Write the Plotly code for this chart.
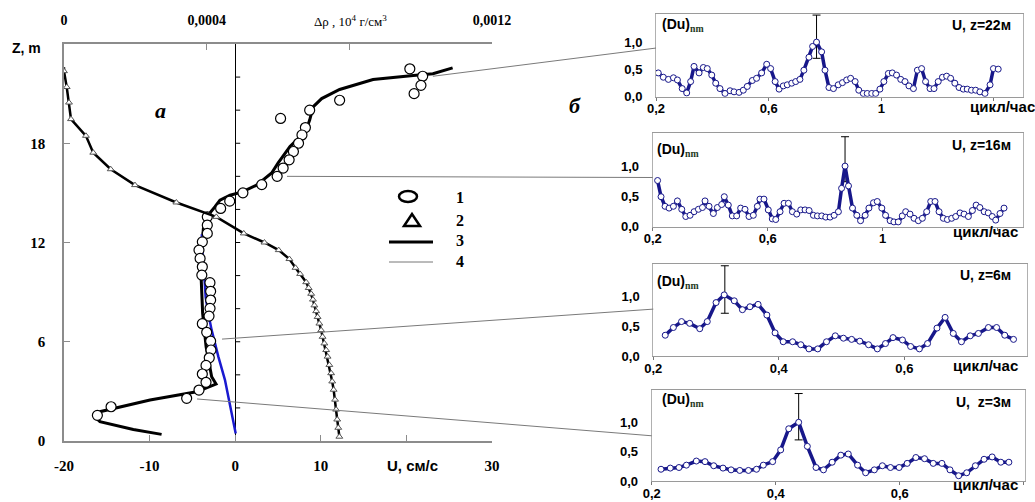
import plotly.graph_objects as go

W, H = 1035, 502
def px(x): return x / W
def py(y): return 1 - y / H

# ---------------- main panel data ----------------
# measured velocity (circles, 1)
U_circ = [20.4, 21.9, 21.7, 20.9, 12.2, 8.7, 5.3, 8.2, 7.8, 7.4, 6.8, 6.3, 5.6, 4.9, 3.1, 0.9,
          -0.64, -1.7, -3.26, -3.26, -3.26, -3.84, -4.23, -4.1, -3.84, -3.9, -2.95, -2.87, -2.87,
          -2.94, -3.06, -3.84, -3.33, -2.87, -2.83, -3.03, -3.41, -3.84, -3.41, -4.23, -5.67, -14.5, -16.1]
Z_circ = [22.5, 22.05, 21.5, 21.0, 20.6, 20.0, 19.5, 18.95, 18.5, 18.0, 17.5, 17.0, 16.5, 16.0, 15.5, 15.0,
          14.5, 14.06, 13.55, 13.05, 12.55, 12.04, 11.54, 11.04, 10.53, 10.03, 9.57, 9.05, 8.52,
          8.02, 7.55, 7.09, 6.57, 6.04, 5.5, 5.03, 4.57, 4.05, 3.55, 3.08, 2.58, 2.07, 1.55]
# velocity fit line (3)
U_line = [25.4, 23.1, 20.8, 16.1, 12.2, 10.1, 9.1, 8.7, 8.2, 6.4, 5.0, 4.26, 2.5, 0.83, -0.6, -1.78,
          -2.36, -2.94, -3.7, -3.9, -4.0, -3.9, -3.8, -3.4, -2.75, -2.24, -4.5, -9.95, -15.8, -16.4,
          -15.8, -11.9, -8.6]
Z_line = [22.56, 22.2, 22.1, 21.85, 21.25, 20.7, 20.2, 19.4, 18.7, 17.8, 16.8, 16.2, 15.47, 15.06, 14.86, 14.56,
          14.16, 13.8, 12.95, 11.74, 10.13, 8.72, 7.7, 5.7, 3.89, 3.44, 2.98, 2.48, 1.77, 1.47,
          1.17, 0.7, 0.4]
# model profile (blue)
U_blue = [0.06, -0.6, -1.2, -1.97, -2.75, -3.14, -3.45, -3.6, -3.8, -3.9]
Z_blue = [0.46, 2.07, 3.7, 5.1, 6.7, 7.7, 8.7, 9.9, 11.2, 12.5]
# density (triangles, 2), top axis
R_tri = [0.0, 0.0000076, 0.000014, 0.0000196, 0.0000615, 0.000082, 0.000131, 0.000199, 0.000315,
         0.000427, 0.000504, 0.000562, 0.000602, 0.000632, 0.000649, 0.000662, 0.000679, 0.000686,
         0.000693, 0.000698, 0.000702, 0.000707, 0.000711, 0.000716, 0.000721, 0.000725, 0.00073,
         0.000735, 0.000739, 0.000744, 0.000749, 0.000752, 0.000756, 0.00076, 0.000763, 0.000766,
         0.000769, 0.000772]
Z_tri = [22.36, 21.4, 20.46, 19.46, 18.45, 17.43, 16.43, 15.47, 14.42,
         13.55, 12.55, 12.0, 11.54, 11.0, 10.47, 10.1, 9.6, 9.25,
         8.9, 8.55, 8.2, 7.85, 7.5, 7.1, 6.7, 6.3, 5.9,
         5.5, 5.1, 4.6, 4.1, 3.6, 3.1, 2.5, 1.9, 1.3,
         0.8, 0.26]
R_line_top = [0.0]
Z_line_top = [22.6]

U_ticks = [-20, -10, 0, 10, 30]
U_ticktext = ["-20", "-10", "0", "10", "30"]
U_minor = [20]
Z_ticks = [0, 6, 12, 18]
Z_zero_ticks = [2, 4, 6, 8, 10, 12, 14, 16, 18, 20, 22]
R_ticks = [0, 0.0004, 0.0012]
R_ticktext = ["0", "0,0004", "0,0012"]
R_minor = [0.0008]

# ---------------- spectra panels ----------------
f1 = [0.208, 0.226, 0.244, 0.262, 0.276, 0.293, 0.309, 0.323, 0.335, 0.353, 0.368, 0.382, 0.398, 0.412,
      0.427, 0.445, 0.463, 0.477, 0.495, 0.51, 0.524, 0.542, 0.557, 0.575, 0.593, 0.607, 0.623, 0.637,
      0.652, 0.666, 0.682, 0.696, 0.711, 0.725, 0.743, 0.756, 0.77, 0.788, 0.8, 0.814, 0.83, 0.847,
      0.862, 0.877, 0.891, 0.907, 0.92, 0.936, 0.95, 0.966, 0.98, 0.995, 1.009, 1.025, 1.039, 1.054,
      1.069, 1.084, 1.098, 1.114, 1.128, 1.143, 1.157, 1.173, 1.187, 1.202, 1.217, 1.232, 1.246,
      1.261, 1.276, 1.291, 1.305, 1.32, 1.335, 1.35, 1.368, 1.386, 1.398, 1.415]
d1 = [0.44, 0.36, 0.32, 0.35, 0.31, 0.15, 0.07, 0.28, 0.56, 0.44, 0.54, 0.52, 0.40, 0.25,
      0.15, 0.06, 0.11, 0.09, 0.08, 0.12, 0.19, 0.30, 0.34, 0.44, 0.60, 0.52, 0.28, 0.14,
      0.20, 0.22, 0.25, 0.28, 0.32, 0.49, 0.73, 0.93, 1.01, 0.83, 0.49, 0.17, 0.15, 0.22,
      0.26, 0.31, 0.34, 0.28, 0.12, 0.06, 0.06, 0.06, 0.06, 0.14, 0.28, 0.43, 0.44, 0.40,
      0.32, 0.28, 0.20, 0.15, 0.49, 0.52, 0.28, 0.15, 0.15, 0.28, 0.36, 0.38, 0.34,
      0.25, 0.17, 0.14, 0.14, 0.12, 0.12, 0.09, 0.06, 0.22, 0.52, 0.51]
f2 = [0.217, 0.229, 0.243, 0.257, 0.272, 0.286, 0.301, 0.315, 0.33, 0.344, 0.359, 0.373, 0.382, 0.396,
      0.411, 0.425, 0.44, 0.449, 0.463, 0.477, 0.492, 0.506, 0.521, 0.535, 0.55, 0.564, 0.573, 0.587,
      0.602, 0.616, 0.628, 0.643, 0.657, 0.672, 0.686, 0.701, 0.715, 0.73, 0.744, 0.759, 0.773, 0.788,
      0.802, 0.817, 0.831, 0.846, 0.857, 0.869, 0.881, 0.895, 0.91, 0.923, 0.939, 0.952, 0.968, 0.981,
      0.997, 1.01, 1.026, 1.039, 1.054, 1.068, 1.08, 1.095, 1.109, 1.124, 1.138, 1.153, 1.167, 1.182,
      1.196, 1.211, 1.225, 1.24, 1.254, 1.269, 1.283, 1.298, 1.312, 1.325, 1.338, 1.353, 1.367, 1.381,
      1.393, 1.408, 1.422]
d2 = [0.77, 0.50, 0.34, 0.31, 0.34, 0.43, 0.29, 0.17, 0.19, 0.25, 0.29, 0.32, 0.43, 0.34,
      0.22, 0.32, 0.37, 0.50, 0.36, 0.18, 0.18, 0.31, 0.29, 0.17, 0.19, 0.34, 0.46, 0.46,
      0.28, 0.13, 0.12, 0.25, 0.39, 0.39, 0.25, 0.21, 0.28, 0.28, 0.27, 0.19, 0.18, 0.18,
      0.16, 0.16, 0.19, 0.25, 0.64, 1.01, 0.68, 0.31, 0.19, 0.10, 0.19, 0.31, 0.40, 0.42,
      0.31, 0.19, 0.10, 0.08, 0.08, 0.18, 0.25, 0.21, 0.14, 0.10, 0.14, 0.25, 0.42, 0.42,
      0.25, 0.14, 0.12, 0.14, 0.17, 0.23, 0.21, 0.17, 0.27, 0.36, 0.32, 0.25, 0.23, 0.17,
      0.11, 0.22, 0.31]
f3 = [0.219, 0.232, 0.245, 0.258, 0.274, 0.286, 0.3, 0.313, 0.329, 0.342, 0.354, 0.367, 0.381, 0.394,
      0.407, 0.422, 0.435, 0.448, 0.462, 0.476, 0.49, 0.503, 0.516, 0.529, 0.543, 0.557, 0.57, 0.582,
      0.597, 0.61, 0.624, 0.637, 0.652, 0.665, 0.678, 0.691, 0.705, 0.718, 0.734, 0.747, 0.76, 0.774]
d3 = [0.35, 0.48, 0.58, 0.55, 0.46, 0.58, 0.90, 1.03, 0.93, 0.78, 0.83, 0.87, 0.69, 0.39,
      0.24, 0.24, 0.19, 0.12, 0.12, 0.24, 0.34, 0.30, 0.28, 0.25, 0.19, 0.12, 0.21, 0.31,
      0.27, 0.16, 0.12, 0.21, 0.47, 0.65, 0.38, 0.24, 0.34, 0.38, 0.48, 0.48, 0.35, 0.28]
f4 = [0.215, 0.23, 0.244, 0.256, 0.272, 0.286, 0.3, 0.315, 0.328, 0.342, 0.356, 0.369, 0.38, 0.395,
      0.408, 0.421, 0.437, 0.451, 0.465, 0.477, 0.491, 0.505, 0.517, 0.532, 0.545, 0.559, 0.572, 0.585,
      0.599, 0.612, 0.626, 0.64, 0.654, 0.668, 0.681, 0.695, 0.708, 0.722, 0.736, 0.749, 0.763, 0.776]
d4 = [0.20, 0.22, 0.23, 0.27, 0.34, 0.33, 0.26, 0.22, 0.19, 0.18, 0.18, 0.20, 0.27, 0.33,
      0.53, 0.89, 1.0, 0.59, 0.23, 0.19, 0.32, 0.44, 0.46, 0.27, 0.14, 0.19, 0.26, 0.23,
      0.23, 0.30, 0.40, 0.38, 0.30, 0.30, 0.19, 0.09, 0.14, 0.26, 0.37, 0.41, 0.32, 0.32]
# peaks with confidence bars: (freq, value, upper, lower)
peaks = [(0.77, 1.01, 1.51, 0.71), (0.869, 1.01, 1.50, 0.75), (0.314, 1.03, 1.52, 0.72), (0.437, 1.0, 1.49, 0.70)]
panel_titles = ["U, z=22м", "U, z=16м", "U, z=6м", "U,  z=3м"]
panel_x_ticks = [[0.2, 0.6, 1.0], [0.2, 0.6, 1.0], [0.2, 0.4, 0.6], [0.2, 0.4, 0.6]]
panel_x_text = [["0,2", "0,6", "1"], ["0,2", "0,6", "1"], ["0,2", "0,4", "0,6"], ["0,2", "0,4", "0,6"]]
panel_x_minor = [[1.4], [1.4], [0.8], [0.8]]
y_ticks = [0, 0.5, 1.0]
y_text = ["0,0", "0,5", "1,0"]

# connectors: main (U, z) -> panel value at left edge
conn_from = [(23.1, 22.05), (6.05, 16.0), (-1.54, 6.16), (-4.46, 2.54)]
conn_to = [0.9, 0.82, 0.79, 0.77]

# ---------------- layout geometry ----------------
MX = [px(64), px(492)]
MY = [py(441), py(44)]
U_RANGE = [-20, 30]
Z_RANGE = [0, 24]
panels = [
    dict(xd=[px(656), px(1023)], yd=[py(96.7), py(14)], xr=[0.2, 1.503], yr=[0, 1.53]),
    dict(xd=[px(652.7), px(1023)], yd=[py(226.7), py(132.7)], xr=[0.2, 1.488], yr=[0, 1.567]),
    dict(xd=[px(653.3), px(1026.7)], yd=[py(356), py(264)], xr=[0.2, 0.795], yr=[0, 1.55]),
    dict(xd=[px(651.7), px(1025)], yd=[py(481), py(390)], xr=[0.2, 0.802], yr=[0, 1.55]),
]

def main_to_paper(u, z):
    return (MX[0] + (u - U_RANGE[0]) / (U_RANGE[1] - U_RANGE[0]) * (MX[1] - MX[0]),
            MY[0] + (z - Z_RANGE[0]) / (Z_RANGE[1] - Z_RANGE[0]) * (MY[1] - MY[0]))

def panel_to_paper(p, f, v):
    return (p["xd"][0] + (f - p["xr"][0]) / (p["xr"][1] - p["xr"][0]) * (p["xd"][1] - p["xd"][0]),
            p["yd"][0] + (v - p["yr"][0]) / (p["yr"][1] - p["yr"][0]) * (p["yd"][1] - p["yd"][0]))

SERIF = "Liberation Serif"
SANS = "Liberation Sans"
GREY = "#8c8c8c"
NAVY = "#17178a"

fig = go.Figure()

# main panel traces
fig.add_trace(go.Scatter(x=R_line_top + R_tri, y=Z_line_top + Z_tri, mode="lines", xaxis="x2", yaxis="y",
                         line=dict(color="black", width=2.5), showlegend=False))
fig.add_trace(go.Scatter(x=R_tri, y=Z_tri, mode="markers", xaxis="x2", yaxis="y",
                         marker=dict(symbol="triangle-up", size=6, color="white",
                                     line=dict(color="#555", width=1)), showlegend=False))
fig.add_trace(go.Scatter(x=U_line, y=Z_line, mode="lines", xaxis="x", yaxis="y",
                         line=dict(color="black", width=3), showlegend=False))
fig.add_trace(go.Scatter(x=U_blue, y=Z_blue, mode="lines", xaxis="x", yaxis="y",
                         line=dict(color="#1a1ad0", width=2.5), showlegend=False))
fig.add_trace(go.Scatter(x=U_circ, y=Z_circ, mode="markers", xaxis="x", yaxis="y",
                         marker=dict(symbol="circle", size=10, color="white",
                                     line=dict(color="black", width=1.2)), showlegend=False))

# spectra traces
spec = [(f1, d1), (f2, d2), (f3, d3), (f4, d4)]
for i, ((fx, dy), pk) in enumerate(zip(spec, peaks)):
    xa, ya = "x%d" % (i + 3), "y%d" % (i + 3)
    fig.add_trace(go.Scatter(x=[pk[0]], y=[pk[1]], mode="markers", xaxis=xa, yaxis=ya,
                             marker=dict(size=1, color="rgba(0,0,0,0)"),
                             error_y=dict(type="data", symmetric=False, array=[pk[2] - pk[1]],
                                          arrayminus=[pk[1] - pk[3]], color="black", thickness=1, width=4),
                             showlegend=False))
    fig.add_trace(go.Scatter(x=fx, y=dy, mode="lines+markers", xaxis=xa, yaxis=ya,
                             line=dict(color=NAVY, width=3.5),
                             marker=dict(symbol="circle", size=6, color="white",
                                         line=dict(color=NAVY, width=1)),
                             showlegend=False))

layout = dict(
    width=W, height=H, autosize=False,
    margin=dict(l=0, r=0, t=0, b=0, pad=0),
    paper_bgcolor="white", plot_bgcolor="white",
    showlegend=False,
    xaxis=dict(domain=MX, range=U_RANGE, anchor="y", tickvals=U_ticks, automargin=False,
               ticktext=["<b>%s</b>" % t for t in U_ticktext],
               ticks="inside", ticklen=6, tickcolor=GREY, showline=True, linecolor=GREY, linewidth=1.5,
               minor=dict(tickmode="array", tickvals=U_minor, ticks="inside", ticklen=6, tickcolor=GREY),
               showgrid=False, zeroline=True, zerolinecolor="black", zerolinewidth=1, ticklabelstandoff=10,
               tickfont=dict(family=SERIF, size=15, color="black")),
    xaxis2=dict(overlaying="x", side="top", anchor="y", range=[0, 0.0012], tickvals=R_ticks, automargin=False,
                ticktext=["<b>%s</b>" % t for t in R_ticktext],
                ticks="inside", ticklen=6, tickcolor=GREY, showline=True, linecolor=GREY, linewidth=1.5,
                minor=dict(tickmode="array", tickvals=R_minor, ticks="inside", ticklen=6, tickcolor=GREY),
                showgrid=False, zeroline=False, ticklabelstandoff=12,
                tickfont=dict(family=SERIF, size=14, color="black")),
    yaxis=dict(domain=MY, range=Z_RANGE, anchor="x", tickvals=Z_ticks, automargin=False,
               ticktext=["<b>%d</b>" % t for t in Z_ticks],
               ticks="inside", ticklen=6, tickcolor=GREY, showline=True, linecolor=GREY, linewidth=1.5,
               showgrid=False, zeroline=False, ticklabelstandoff=14,
               tickfont=dict(family=SERIF, size=15, color="black")),
)
for i, p in enumerate(panels):
    n = i + 3
    layout["xaxis%d" % n] = dict(domain=p["xd"], range=p["xr"], anchor="y%d" % n, automargin=False,
                                 tickvals=panel_x_ticks[i],
                                 ticktext=["<b>%s</b>" % t for t in panel_x_text[i]],
                                 ticks="outside", ticklen=3, tickcolor="#777", showline=True, mirror=True,
                                 minor=dict(tickmode="array", tickvals=panel_x_minor[i], ticks="outside",
                                            ticklen=3, tickcolor="#777"),
                                 linecolor="#9a9a9a", linewidth=1.2, showgrid=False, zeroline=False,
                                 ticklabelstandoff=-3,
                                 tickfont=dict(family=SANS, size=13, color="black"))
    layout["yaxis%d" % n] = dict(domain=p["yd"], range=p["yr"], anchor="x%d" % n, automargin=False,
                                 tickvals=y_ticks, ticktext=["<b>%s</b>" % t for t in y_text],
                                 ticks="", showline=True, mirror=True, linecolor="#b0b0b0", linewidth=1,
                                 showgrid=False, zeroline=False, ticklabelstandoff=10,
                                 tickfont=dict(family=SANS, size=13, color="black"))
fig.update_layout(**layout)

shapes = []
# small ticks on the U=0 line
for z in Z_zero_ticks:
    shapes.append(dict(type="line", xref="x", yref="y", xsizemode="pixel", xanchor=0, x0=0, x1=5,
                       y0=z, y1=z, line=dict(color="black", width=1)))
# connectors (thin grey lines)
for (u, z), v, p in zip(conn_from, conn_to, panels):
    x0, y0 = main_to_paper(u, z)
    x1, y1 = panel_to_paper(p, p["xr"][0], v)
    shapes.append(dict(type="line", xref="paper", yref="paper", x0=x0, y0=y0, x1=x1, y1=y1,
                       line=dict(color="#7a7a7a", width=1)))
# legend symbols
shapes.append(dict(type="circle", xref="paper", yref="paper", x0=px(399), x1=px(417), y0=py(202), y1=py(191),
                   line=dict(color="black", width=2.5)))
shapes.append(dict(type="path", xref="paper", yref="paper",
                   path="M %f %f L %f %f L %f %f Z" % (px(404), py(226), px(420), py(226), px(412), py(214)),
                   line=dict(color="black", width=2.5)))
shapes.append(dict(type="line", xref="paper", yref="paper", x0=px(389), x1=px(433), y0=py(242), y1=py(242),
                   line=dict(color="black", width=3)))
shapes.append(dict(type="line", xref="paper", yref="paper", x0=px(389), x1=px(433), y0=py(262), y1=py(262),
                   line=dict(color="#777", width=1)))
fig.update_layout(shapes=shapes)

ann = []
def add_text(text, x, y, size, family=SANS, xanchor="center", color="black"):
    ann.append(dict(text=text, x=px(x), y=py(y), xref="paper", yref="paper", showarrow=False,
                    xanchor=xanchor, yanchor="middle", font=dict(family=family, size=size, color=color)))

add_text("<b>Z, m</b>", 10, 48, 14, xanchor="left")
add_text("<b>U, см/с</b>", 412, 465, 15)
add_text("Δρ , 10<sup>4</sup> г/см<sup>3</sup>", 350, 21, 13, family=SERIF)
add_text("<b><i>a</i></b>", 160, 110, 22, family=SERIF)
add_text("<b><i>б</i></b>", 575, 105, 22, family=SERIF)
for t, yy in zip(["1", "2", "3", "4"], [197, 220, 240, 261]):
    add_text("<b>%s</b>" % t, 460, yy, 16, family=SERIF)

du_pos = [(660, 25), (655, 150), (655, 282), (660, 400)]
title_pos = [(1013, 25), (1013, 145), (1013, 275), (1013, 402)]
unit_pos = [(1002, 106), (985, 231), (985, 365), (985, 484)]
for i in range(4):
    add_text("<b>(Du)</b><sub><span style='font-family:Liberation Serif;color:#1e3a1e'><b>nm</b></span></sub>",
             du_pos[i][0], du_pos[i][1], 14, xanchor="left")
    add_text("<b>%s</b>" % panel_titles[i], title_pos[i][0], title_pos[i][1], 14, xanchor="right")
    add_text("<b>цикл/час</b>", unit_pos[i][0], unit_pos[i][1], 15)
fig.update_layout(annotations=ann)

fig.write_html("out.html", config={"displayModeBar": False},
               post_script="document.body.style.margin='0';document.body.style.overflow='hidden';")
